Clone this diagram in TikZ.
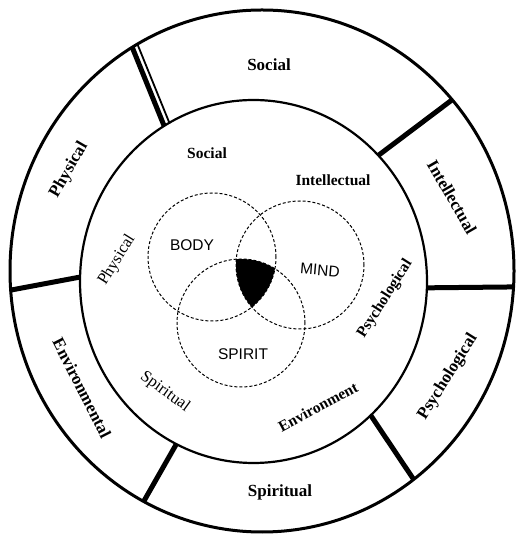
\documentclass[tikz,border=0pt]{standalone}
\usepackage{fontspec}
\setmainfont{Liberation Serif}
\setsansfont{Liberation Sans}
\usetikzlibrary{calc}

\begin{document}
\begin{tikzpicture}[x=1pt, y=1pt,
    ring/.style={line width=3pt},
    divider/.style={line width=5pt},
    venn/.style={line width=1pt, dash pattern=on 3pt off 2pt},
    outerlbl/.style={font=\bfseries\fontsize{17}{17}\selectfont, inner sep=0pt},
    innerlbl/.style={font=\bfseries\fontsize{15.5}{16}\selectfont, inner sep=0pt},
    innerlight/.style={font=\fontsize{16.5}{17}\selectfont, inner sep=0pt},
    vennlbl/.style={font=\sffamily\fontsize{15.5}{16}\selectfont, inner sep=0pt}
]
\useasboundingbox (0,0) rectangle (517,535);

% --- Anillos exterior y medio ---
\coordinate (oc) at (262,264);
\coordinate (mc) at (253.5,253.5);
\draw[ring] (oc) ellipse [x radius=252, y radius=261];
\draw[ring, line width=2.2pt] (mc) ellipse [x radius=173.5, y radius=181.5];

% --- Divisiones del anillo exterior ---
\coordinate (d1i) at ($(mc)+(121:173.5 and 181.5)$);
\coordinate (d1o) at ($(oc)+(121:252 and 261)$);
\coordinate (d2i) at ($(mc)+(44:173.5 and 181.5)$);
\coordinate (d2o) at ($(oc)+(41:252 and 261)$);
\coordinate (d3i) at ($(mc)+(-2:173.5 and 181.5)$);
\coordinate (d3o) at ($(oc)+(-3.5:252 and 261)$);
\coordinate (d4i) at ($(mc)+(-47.5:173.5 and 181.5)$);
\coordinate (d4o) at ($(oc)+(-53:252 and 261)$);
\coordinate (d5i) at ($(mc)+(-116.4:173.5 and 181.5)$);
\coordinate (d5o) at ($(oc)+(-118:252 and 261)$);
\coordinate (d6i) at ($(mc)+(178.6:173.5 and 181.5)$);
\coordinate (d6o) at ($(oc)+(184.2:252 and 261)$);
\draw[divider] (d1i) -- (d1o);
\draw[line width=1.8pt] ($(d1i)!6pt!-90:(d1o)$) -- ($(d1o)!6pt!90:(d1i)$);
\draw[divider] (d2i) -- (d2o);
\draw[divider] (d3i) -- (d3o);
\draw[divider] (d4i) -- (d4o);
\draw[divider] (d5i) -- (d5o);
\draw[divider] (d6i) -- (d6o);

% --- Etiquetas del anillo exterior ---
\node[outerlbl] (oSocial) at (269,470) {Social};
\node[outerlbl, rotate=-60] (oIntel) at (452,338) {Intellectual};
\node[outerlbl, rotate=58] (oPsych) at (448,158) {Psychological};
\node[outerlbl] (oSpirit) at (280,43) {Spiritual};
\node[outerlbl, rotate=-63] (oEnv) at (82,147) {Environmental};
\node[outerlbl, rotate=60] (oPhys) at (69,365) {Physical};

% --- Etiquetas del anillo interior ---
\node[innerlbl] (iSocial) at (207,382) {Social};
\node[innerlbl] (iIntel) at (333,355) {Intellectual};
\node[innerlight, rotate=58] (iPhys) at (117,275) {Physical};
\node[innerlbl, rotate=57.5] (iPsych) at (385,236) {Psychological};
\node[innerlight, rotate=-36] (iSpirit) at (165,143) {Spiritual};
\node[innerlbl, rotate=28] (iEnv) at (318,128) {Environment};

% --- Diagrama de Venn ---
\coordinate (bodyc) at (212,278);
\coordinate (mindc) at (300,270);
\coordinate (spiritc) at (241,212);
\begin{scope}
  \clip (bodyc) circle [radius=64];
  \clip (mindc) circle [radius=64];
  \fill (spiritc) circle [radius=64];
\end{scope}
\draw[venn] (bodyc) circle [radius=64];
\draw[venn] (mindc) circle [radius=64];
\draw[venn] (spiritc) circle [radius=64];
\node[vennlbl] (body) at (192,290) {BODY};
\node[vennlbl, rotate=-5] (mind) at (320,265) {MIND};
\node[vennlbl] (spirit) at (243,181) {SPIRIT};

\end{tikzpicture}
\end{document}
